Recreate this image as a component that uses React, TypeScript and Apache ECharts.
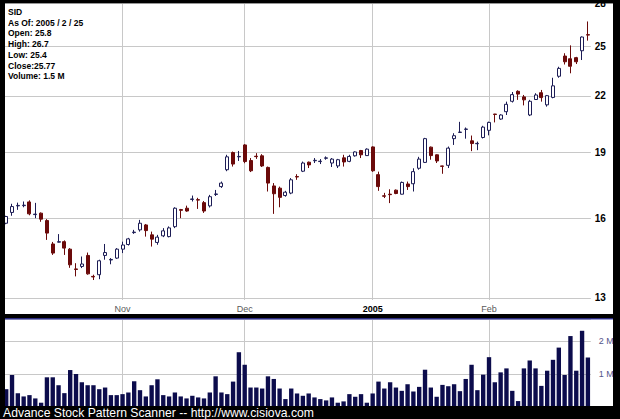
import React, { useEffect, useRef } from 'react';
import * as echarts from 'echarts';

const dates = [
  '2004-10-04','2004-10-05','2004-10-06','2004-10-07','2004-10-08','2004-10-11','2004-10-12','2004-10-13','2004-10-14','2004-10-15',
  '2004-10-18','2004-10-19','2004-10-20','2004-10-21','2004-10-22','2004-10-25','2004-10-26','2004-10-27','2004-10-28','2004-10-29',
  '2004-11-01','2004-11-02','2004-11-03','2004-11-04','2004-11-05','2004-11-08','2004-11-09','2004-11-10','2004-11-11','2004-11-12',
  '2004-11-15','2004-11-16','2004-11-17','2004-11-18','2004-11-19','2004-11-22','2004-11-23','2004-11-24','2004-11-26','2004-11-29',
  '2004-11-30','2004-12-01','2004-12-02','2004-12-03','2004-12-06','2004-12-07','2004-12-08','2004-12-09','2004-12-10','2004-12-13',
  '2004-12-14','2004-12-15','2004-12-16','2004-12-17','2004-12-20','2004-12-21','2004-12-22','2004-12-23','2004-12-27','2004-12-28',
  '2004-12-29','2004-12-30','2004-12-31','2005-01-03','2005-01-04','2005-01-05','2005-01-06','2005-01-07','2005-01-10','2005-01-11',
  '2005-01-12','2005-01-13','2005-01-14','2005-01-18','2005-01-19','2005-01-20','2005-01-21','2005-01-24','2005-01-25','2005-01-26',
  '2005-01-27','2005-01-28','2005-01-31','2005-02-01','2005-02-02','2005-02-03','2005-02-04','2005-02-07','2005-02-08','2005-02-09',
  '2005-02-10','2005-02-11','2005-02-14','2005-02-15','2005-02-16','2005-02-17','2005-02-18','2005-02-22','2005-02-23','2005-02-24',
  '2005-02-25'
];

const opens = [
  15.79,16.24,16.52,16.53,16.69,16.15,16.21,15.90,14.96,15.03,
  15.05,14.76,14.02,14.11,14.52,13.75,13.81,14.52,14.35,14.42,
  14.76,14.94,15.41,15.52,15.72,15.32,15.02,15.28,15.25,15.65,
  16.36,16.42,16.80,16.79,16.66,16.52,17.02,17.37,18.15,18.98,
  18.77,19.36,18.59,18.80,18.82,18.26,17.40,17.30,16.97,17.08,
  17.83,18.08,18.51,18.58,18.54,18.70,18.47,18.33,18.72,18.55,
  18.82,19.08,18.83,19.26,17.92,16.96,17.03,17.21,17.03,17.49,
  17.50,18.22,18.50,19.25,18.87,18.33,18.36,19.68,20.00,20.16,
  19.57,19.42,19.74,20.11,20.98,20.71,21.11,21.69,22.26,21.94,
  20.93,21.79,22.18,21.49,21.91,23.15,24.40,24.23,24.30,24.74,
  25.80
];

const closes = [
  16.07,16.49,16.54,16.55,16.18,16.17,15.96,15.39,14.61,15.05,
  14.80,14.17,14.00,14.20,13.84,13.73,14.32,14.63,14.37,14.76,
  14.92,15.16,15.43,15.79,15.49,15.15,15.23,15.48,15.60,16.42,
  16.33,16.30,16.82,16.77,16.30,16.92,17.04,17.53,18.77,18.42,
  18.79,18.54,18.10,18.78,18.33,17.53,17.05,16.89,17.12,17.68,
  17.81,18.47,18.38,18.60,18.56,18.72,18.66,18.63,18.52,18.79,
  19.01,18.87,19.15,18.10,17.37,16.94,17.01,17.06,17.56,17.37,
  18.06,18.66,19.68,18.83,18.57,18.31,19.20,19.83,20.02,20.18,
  19.43,19.44,20.28,20.53,20.96,20.93,21.52,22.07,22.10,21.77,
  21.69,22.05,21.90,22.01,22.58,23.63,24.04,23.76,24.04,25.64,
  25.77
];

const lows = [
  15.75,16.10,16.35,16.46,16.12,16.00,15.85,15.12,14.54,15.02,
  14.54,14.06,13.75,14.05,13.81,13.62,13.65,14.36,14.19,14.39,
  14.61,14.90,15.36,15.45,15.25,14.86,14.93,15.23,15.22,15.59,
  16.00,16.27,16.71,16.39,16.22,16.45,16.95,17.31,18.08,18.30,
  18.57,18.46,18.04,18.67,18.28,17.15,16.18,16.46,16.92,17.03,
  17.68,18.04,18.23,18.47,18.42,18.63,18.28,18.23,18.30,18.51,
  18.78,18.71,18.82,18.05,17.18,16.86,16.64,17.03,17.02,17.22,
  17.15,18.15,18.47,18.63,18.47,17.96,18.23,19.36,19.99,19.68,
  19.05,19.10,19.69,19.85,20.53,20.67,20.93,21.62,21.77,21.46,
  20.87,21.77,21.67,21.39,21.86,23.06,23.87,23.33,23.90,24.15,
  25.40
];

const highs = [
  16.10,16.61,16.66,16.71,16.76,16.65,16.24,15.96,15.04,15.35,
  15.10,14.80,14.23,14.48,14.63,13.81,14.36,14.96,14.42,14.80,
  15.05,15.20,15.52,15.93,15.76,15.45,15.32,15.59,15.66,16.46,
  16.39,16.53,16.97,16.87,16.73,17.00,17.22,17.60,18.87,19.03,
  19.06,19.40,18.71,18.95,18.90,18.30,17.53,17.37,17.18,17.76,
  17.94,18.54,18.54,18.71,18.66,18.79,18.71,18.67,18.87,18.87,
  19.04,19.11,19.19,19.29,18.06,17.09,17.25,17.24,17.60,17.60,
  18.22,18.77,19.72,19.28,18.89,18.34,19.28,19.96,20.56,20.26,
  19.84,19.53,20.35,20.57,20.99,20.97,21.67,22.22,22.32,22.05,
  21.77,22.15,22.34,22.05,23.06,23.73,24.58,25.09,24.35,25.68,
  26.70
];

// volume in millions of shares
const volumes = [
  0.54,0.97,0.42,0.32,0.36,0.26,0.13,0.90,0.90,0.66,
  0.42,1.12,1.00,0.75,0.66,0.66,0.54,0.59,0.36,0.36,
  0.39,0.44,0.78,0.51,0.32,0.66,0.84,0.36,0.32,0.44,
  0.32,0.26,0.34,0.29,0.26,0.44,0.93,0.44,0.39,0.77,
  1.66,1.28,0.59,0.59,0.56,0.93,0.85,0.56,0.24,0.56,
  0.41,0.34,0.41,0.29,0.24,0.20,0.29,0.13,0.17,0.39,
  0.31,0.39,0.13,0.41,0.77,0.56,0.75,0.59,0.49,0.69,
  0.47,0.61,1.13,0.59,0.31,0.67,0.63,0.69,0.48,0.85,
  1.28,0.51,0.98,1.51,0.75,1.05,1.17,0.49,0.18,1.17,
  1.41,1.17,0.64,1.10,1.43,1.80,0.97,2.15,1.10,2.31,
  1.50
];

const priceTicks = [13, 16, 19, 22, 25, 28];
const volumeTicks = [1, 2];
const monthMarks: Record<string, string> = {
  '2004-11-01': 'Nov',
  '2004-12-01': 'Dec',
  '2005-01-03': '2005',
  '2005-02-01': 'Feb',
};
const headerLines = [
  'SID',
  'As Of: 2005 / 2 / 25',
  'Open: 25.8',
  'High: 26.7',
  'Low: 25.4',
  'Close:25.77',
  'Volume: 1.5 M',
];
const footerText = 'Advance Stock Pattern Scanner -- http://www.cisiova.com';

const FONT = '"Liberation Sans", Arial, sans-serif';
const GRID_COLOR = '#c8c8c8';

export default function App() {
  const ref = useRef<HTMLDivElement>(null);

  useEffect(() => {
    if (!ref.current) return;
    const chart = echarts.init(ref.current, undefined, { renderer: 'svg' });

    const candleData = dates.map((_, i) => [opens[i], closes[i], lows[i], highs[i]]);
    const monthKeys = Object.keys(monthMarks);

    const gridLeft = 3.3;
    const gridRight = 29.2;

    const option: any = {
      animation: false,
      backgroundColor: '#000000',
      grid: [
        { left: gridLeft, right: gridRight, top: 3.2, height: 296.8 },
        { left: gridLeft, right: gridRight, top: 319, height: 88 },
      ],
      xAxis: [
        {
          type: 'category',
          gridIndex: 0,
          data: dates,
          boundaryGap: true,
          axisLine: { show: false },
          axisTick: { show: false },
          splitLine: { show: false },
          axisLabel: {
            interval: (_idx: number, val: string) => monthMarks[val] !== undefined,
            formatter: (val: string) => {
              const m = monthMarks[val];
              if (!m) return '';
              return m === '2005' ? '{b|' + m + '}' : '{n|' + m + '}';
            },
            margin: 4,
            rich: {
              n: { fontSize: 9, color: '#5a5a5a', fontFamily: FONT },
              b: { fontSize: 9, color: '#000000', fontWeight: 'bold', fontFamily: FONT },
            },
          },
        },
        {
          type: 'category',
          gridIndex: 1,
          data: dates,
          boundaryGap: true,
          axisLine: { show: false },
          axisTick: { show: false },
          splitLine: { show: false },
          axisLabel: { show: false },
        },
      ],
      yAxis: [
        {
          type: 'log',
          logBase: 10,
          gridIndex: 0,
          position: 'right',
          min: 12.93,
          max: 28,
          axisLine: { show: false },
          axisTick: { show: false },
          axisLabel: { show: false },
          splitLine: { show: false },
        },
        {
          type: 'value',
          gridIndex: 1,
          position: 'right',
          min: 0,
          max: 2.667,
          interval: 1,
          axisLine: { show: false },
          axisTick: { show: false },
          axisLabel: {
            margin: 8,
            fontSize: 9,
            color: '#55558a',
            fontFamily: FONT,
            padding: [0, 0, 5, 0],
            formatter: (v: number) => (volumeTicks.indexOf(v) >= 0 ? v + ' M' : ''),
          },
          splitLine: { show: true, lineStyle: { color: GRID_COLOR, width: 1 } },
        },
      ],
      series: [
        {
          type: 'line',
          xAxisIndex: 0,
          yAxisIndex: 0,
          data: [],
          z: 1,
          silent: true,
          markLine: {
            z: 1,
            silent: true,
            symbol: ['none', 'none'],
            animation: false,
            lineStyle: { color: GRID_COLOR, width: 1, type: 'solid' },
            label: {
              show: true,
              position: 'end',
              distance: 4,
              formatter: '{c}',
              color: '#000000',
              fontWeight: 'bold',
              fontSize: 10,
              fontFamily: FONT,
            },
            data: [
              ...priceTicks.map((v) => ({ yAxis: v })),
              ...monthKeys.map((d) => ({ xAxis: d, label: { show: false } })),
            ],
          },
        },
        {
          type: 'candlestick',
          xAxisIndex: 0,
          yAxisIndex: 0,
          data: candleData,
          barWidth: 3.5,
          z: 3,
          itemStyle: {
            color: '#ffffff',
            color0: '#6b0a0a',
            borderColor: '#1c1c55',
            borderColor0: '#6b0a0a',
            borderWidth: 1,
          },
        },
        {
          type: 'line',
          xAxisIndex: 1,
          yAxisIndex: 1,
          data: [],
          z: 1,
          silent: true,
          markLine: {
            z: 1,
            silent: true,
            symbol: ['none', 'none'],
            animation: false,
            lineStyle: { color: GRID_COLOR, width: 1, type: 'solid' },
            label: { show: false },
            data: monthKeys.map((d) => ({ xAxis: d })),
          },
        },
        {
          type: 'bar',
          xAxisIndex: 1,
          yAxisIndex: 1,
          data: volumes,
          barWidth: '75%',
          z: 3,
          itemStyle: { color: '#0c0c4c' },
        },
      ],
      graphic: [
        { type: 'rect', z: -10, shape: { x: 5, y: 3.3, width: 608, height: 310.7 }, style: { fill: '#ffffff' } },
        { type: 'rect', z: -10, shape: { x: 5, y: 319, width: 608, height: 88 }, style: { fill: '#ffffff' } },
        { type: 'rect', z: 100, shape: { x: 0, y: 0, width: 5, height: 419 }, style: { fill: '#000000' } },
        { type: 'rect', z: 100, shape: { x: 0, y: 0, width: 620, height: 3.3 }, style: { fill: '#000000' } },
        { type: 'rect', z: 100, shape: { x: 613, y: 0, width: 7, height: 419 }, style: { fill: '#000000' } },
        { type: 'rect', z: 100, shape: { x: 0, y: 314, width: 620, height: 5 }, style: { fill: '#000000' } },
        { type: 'rect', z: 101, shape: { x: 5, y: 318.2, width: 608, height: 1.3 }, style: { fill: '#3a3aa8' } },
        { type: 'rect', z: 100, shape: { x: 0, y: 406, width: 620, height: 13 }, style: { fill: '#000000' } },
        {
          type: 'text',
          z: 102,
          x: 3,
          y: 413,
          style: {
            text: footerText,
            fill: '#ffffff',
            fontSize: 12.2,
            fontFamily: FONT,
            verticalAlign: 'middle',
          },
        },
        ...headerLines.map((t, i) => ({
          type: 'text',
          z: 102,
          x: 8,
          y: 12 + i * 10.7,
          style: {
            text: t,
            fill: '#000000',
            fontSize: 8.5,
            fontWeight: 'bold',
            fontFamily: FONT,
            verticalAlign: 'middle',
          },
        })),
      ],
    };

    chart.setOption(option);
    return () => {
      chart.dispose();
    };
  }, []);

  return (
    <div
      ref={ref}
      style={{ position: 'absolute', left: 0, top: 0, width: 620, height: 419 }}
    />
  );
}
